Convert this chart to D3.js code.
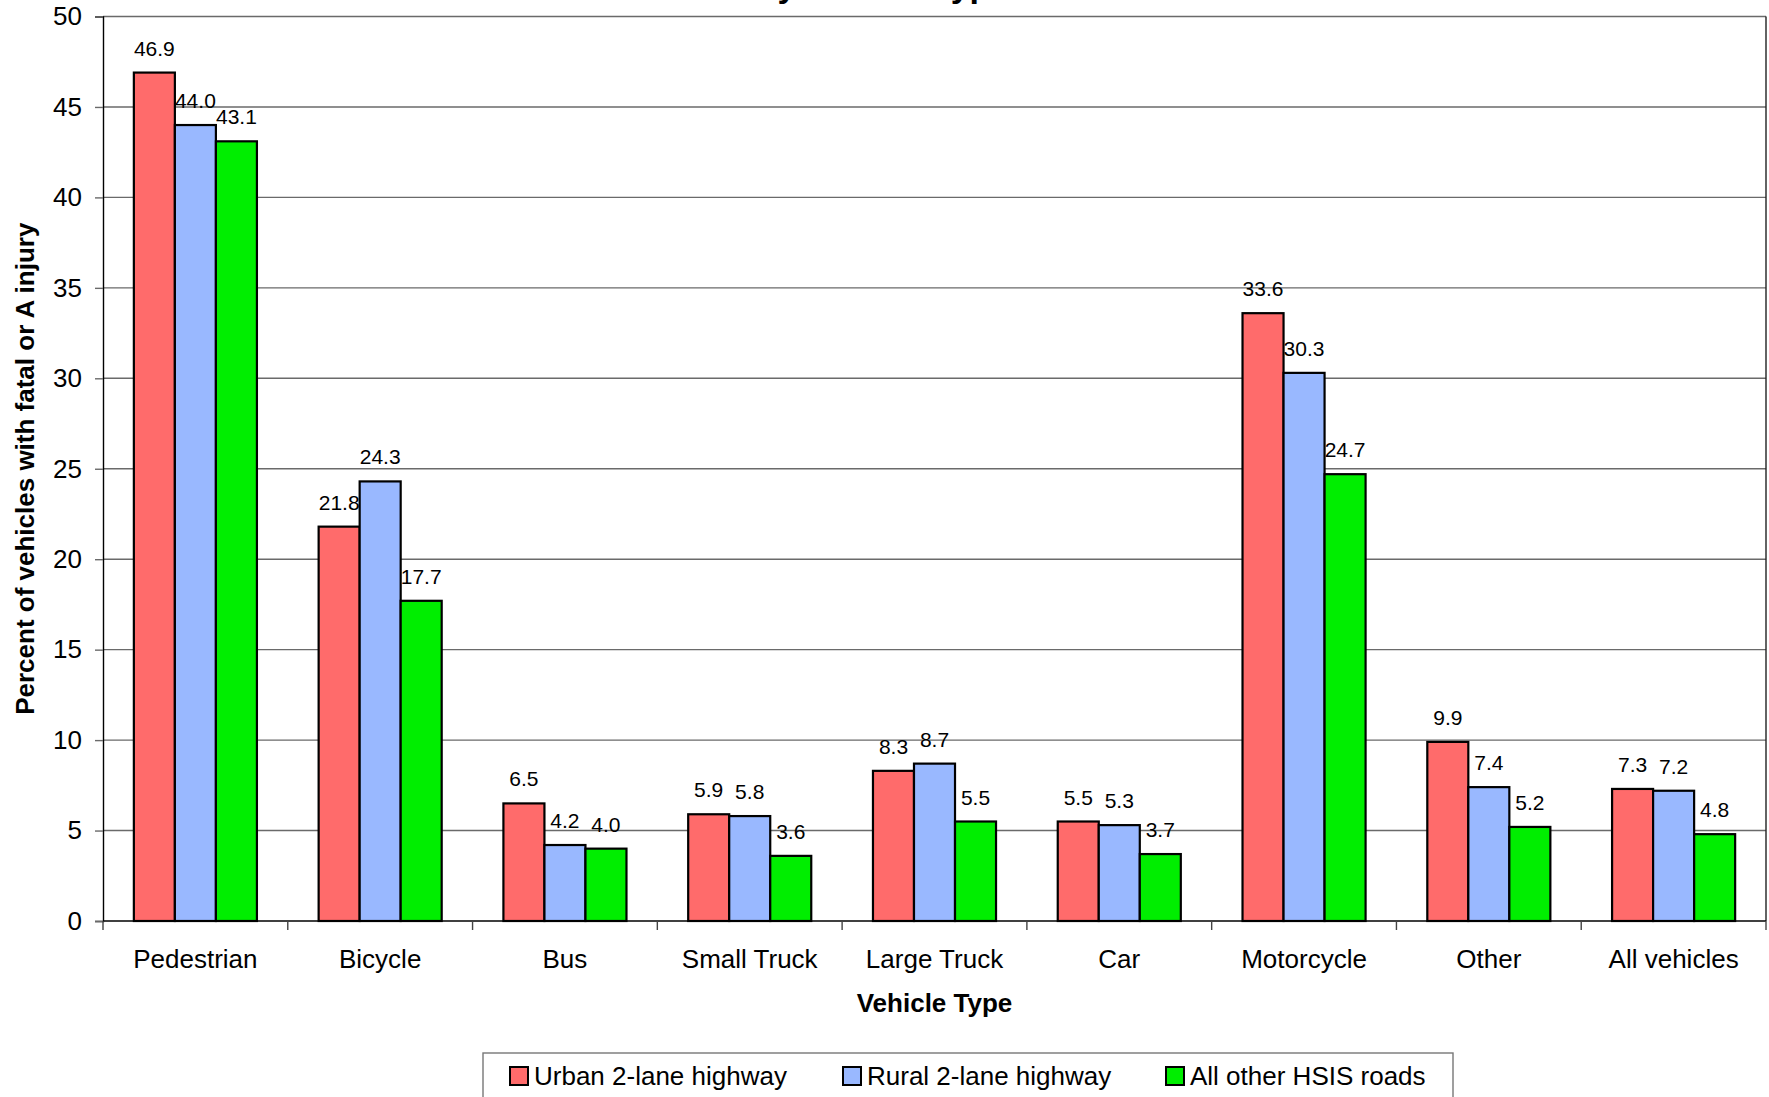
<!DOCTYPE html>
<html>
<head>
<meta charset="utf-8">
<script src="https://cdn.jsdelivr.net/npm/d3@7"></script>
<style>
  html, body { margin: 0; padding: 0; background: #fff; }
  svg { display: block; font-family: "Liberation Sans", Arial, sans-serif; }
</style>
</head>
<body>
<script>
// Vehicle categories along the x axis
const categories = ["Pedestrian", "Bicycle", "Bus", "Small Truck", "Large Truck", "Car", "Motorcycle", "Other", "All vehicles"];

// Series names (legend order)
const seriesNames = ["Urban 2-lane highway", "Rural 2-lane highway", "All other HSIS roads"];

// Percent of vehicles with fatal or A injury, per series
const urban2Lane = [46.9, 21.8, 6.5, 5.9, 8.3, 5.5, 33.6, 9.9, 7.3];
const rural2Lane = [44.0, 24.3, 4.2, 5.8, 8.7, 5.3, 30.3, 7.4, 7.2];
const allOther   = [43.1, 17.7, 4.0, 3.6, 5.5, 3.7, 24.7, 5.2, 4.8];

// Y axis ticks
const yTicks = [0, 5, 10, 15, 20, 25, 30, 35, 40, 45, 50];

const seriesValues = [urban2Lane, rural2Lane, allOther];
const colors = ["#FF6B6B", "#99B8FF", "#00EE00"];

const W = 1769, H = 1097;
const plot = { left: 103, right: 1766, top: 16.5, bottom: 921 };

const svg = d3.select("body").append("svg")
  .attr("width", W).attr("height", H);

const x0 = d3.scaleBand()
  .domain(categories)
  .range([plot.left, plot.right])
  .paddingInner(0.334)
  .paddingOuter(0.167);

const x1 = d3.scaleBand()
  .domain(d3.range(seriesNames.length))
  .range([0, x0.bandwidth()]);

const y = d3.scaleLinear()
  .domain([0, 50])
  .range([plot.bottom, plot.top]);

// Title (second line, mostly above the visible area)
svg.append("text")
  .attr("x", 883).attr("y", -3)
  .attr("text-anchor", "middle")
  .attr("font-size", 34).attr("font-weight", "bold")
  .text("by Vehicle Type");

// Horizontal gridlines
svg.append("g").selectAll("line")
  .data(yTicks.filter(d => d > 0))
  .join("line")
  .attr("x1", plot.left).attr("x2", plot.right)
  .attr("y1", d => y(d)).attr("y2", d => y(d))
  .attr("stroke", "#6a6a6a").attr("stroke-width", 1.4);

// Right border of plot area
svg.append("line")
  .attr("x1", plot.right).attr("x2", plot.right)
  .attr("y1", plot.top).attr("y2", plot.bottom)
  .attr("stroke", "#222").attr("stroke-width", 1.4);

// Y axis
const yAxis = d3.axisLeft(y).tickValues(yTicks).tickSize(8).tickPadding(13);
const gy = svg.append("g")
  .attr("transform", `translate(${plot.left},0)`)
  .call(yAxis);
gy.select(".domain").attr("stroke", "#000").attr("stroke-width", 1.4);
gy.selectAll(".tick line").attr("stroke", "#6a6a6a").attr("stroke-width", 1.4);
gy.selectAll(".tick text")
  .attr("font-size", 26).attr("fill", "#000")
  .attr("font-family", "Liberation Sans, Arial, sans-serif");

// X axis: tick marks at category boundaries
const step = x0.step();
const boundaries = d3.range(categories.length + 1).map(i => plot.left + i * step);
svg.append("line")
  .attr("x1", plot.left).attr("x2", plot.right)
  .attr("y1", plot.bottom).attr("y2", plot.bottom)
  .attr("stroke", "#000").attr("stroke-width", 1.4);
svg.append("g").selectAll("line")
  .data(boundaries)
  .join("line")
  .attr("x1", d => d).attr("x2", d => d)
  .attr("y1", plot.bottom).attr("y2", plot.bottom + 9)
  .attr("stroke", "#444").attr("stroke-width", 1.4);

// Category labels
svg.append("g").selectAll("text")
  .data(categories)
  .join("text")
  .attr("x", d => x0(d) + x0.bandwidth() / 2)
  .attr("y", 968)
  .attr("text-anchor", "middle")
  .attr("font-size", 26)
  .text(d => d);

// Bars
const groups = svg.append("g").selectAll("g")
  .data(categories)
  .join("g")
  .attr("transform", d => `translate(${x0(d)},0)`);

const cells = groups.selectAll("g")
  .data((c, ci) => seriesValues.map((vals, si) => ({ si, v: vals[ci] })))
  .join("g");

cells.append("rect")
  .attr("x", d => x1(d.si))
  .attr("y", d => y(d.v))
  .attr("width", x1.bandwidth())
  .attr("height", d => y(0) - y(d.v))
  .attr("fill", d => colors[d.si])
  .attr("stroke", "#000")
  .attr("stroke-width", 2.2);

// Value labels
cells.append("text")
  .attr("x", d => x1(d.si) + x1.bandwidth() / 2)
  .attr("y", d => y(d.v) - 17)
  .attr("text-anchor", "middle")
  .attr("font-size", 21)
  .text(d => d3.format(".1f")(d.v));

// Axis titles
svg.append("text")
  .attr("x", (plot.left + plot.right) / 2)
  .attr("y", 1012)
  .attr("text-anchor", "middle")
  .attr("font-size", 26).attr("font-weight", "bold")
  .text("Vehicle Type");

svg.append("text")
  .attr("transform", `translate(34,${(plot.top + plot.bottom) / 2}) rotate(-90)`)
  .attr("text-anchor", "middle")
  .attr("font-size", 26).attr("font-weight", "bold")
  .text("Percent of vehicles with fatal or A injury");

// Legend
const legend = svg.append("g");
legend.append("rect")
  .attr("x", 483).attr("y", 1053)
  .attr("width", 970).attr("height", 80)
  .attr("fill", "#fff")
  .attr("stroke", "#777").attr("stroke-width", 1.4);

const legendX = [510, 843, 1166];
const items = legend.selectAll("g.item")
  .data(seriesNames)
  .join("g")
  .attr("class", "item")
  .attr("transform", (d, i) => `translate(${legendX[i]},0)`);
items.append("rect")
  .attr("x", 0).attr("y", 1067)
  .attr("width", 18).attr("height", 18)
  .attr("fill", (d, i) => colors[i])
  .attr("stroke", "#000").attr("stroke-width", 2);
items.append("text")
  .attr("x", 24).attr("y", 1085)
  .attr("font-size", 26)
  .text(d => d);
</script>
</body>
</html>
